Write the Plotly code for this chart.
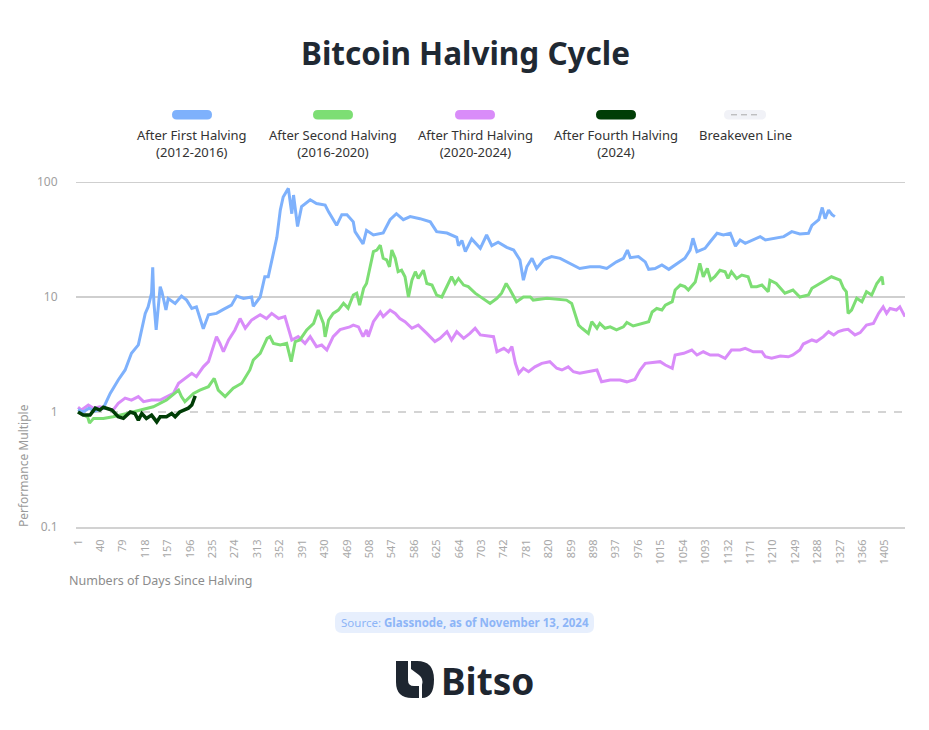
import plotly.graph_objects as go

# ---------------- data ----------------
first_days = [1, 10, 20, 30, 45, 57, 71, 83, 94, 106, 118, 123, 129, 131, 133, 137, 144, 147, 154, 158,
              170, 181, 190, 199, 207, 219, 228, 242, 254, 268, 277, 289, 303, 306, 318, 326, 332, 341,
              347, 353, 358, 367, 373, 376, 383, 390, 405, 416, 431, 437, 451, 460, 469, 480, 483, 497,
              503, 515, 532, 544, 555, 567, 579, 596, 614, 625, 643, 660, 663, 669, 675, 686, 701, 712,
              721, 732, 747, 759, 770, 776, 782, 791, 799, 811, 825, 840, 857, 874, 892, 909, 921, 938,
              950, 957, 962, 976, 988, 994, 1005, 1017, 1029, 1043, 1057, 1066, 1071, 1078, 1092, 1101,
              1113, 1124, 1136, 1145, 1153, 1162, 1176, 1188, 1197, 1211, 1229, 1243, 1257, 1272, 1278,
              1290, 1296, 1301, 1307, 1313, 1318]
first_vals = [1.05, 1.0, 1.08, 1.02, 1.08, 1.45, 1.9, 2.32, 3.24, 3.83, 7.2, 8.2, 10.8, 18.1, 9.0, 5.17,
              12.3, 11.1, 7.7, 9.7, 8.8, 10.2, 9.4, 7.95, 8.2, 5.3, 7.0, 7.2, 7.8, 8.5, 10.2, 9.7, 10.0,
              8.3, 10.0, 15.0, 15.0, 24.0, 33.0, 57.0, 74.0, 88.0, 53.0, 77.0, 41.0, 61.0, 70.0, 65.0,
              63.0, 55.0, 42.0, 52.0, 52.0, 45.0, 37.0, 29.0, 38.0, 34.6, 36.0, 47.0, 53.0, 47.0, 50.0,
              48.0, 45.0, 37.0, 36.0, 33.0, 28.0, 31.0, 24.8, 32.0, 26.5, 34.6, 28.0, 30.0, 27.0, 25.6,
              21.0, 14.0, 18.3, 21.7, 17.7, 21.0, 22.5, 21.7, 19.6, 17.7, 18.3, 18.3, 17.7, 20.2, 21.7,
              25.6, 22.0, 22.5, 20.2, 17.4, 17.7, 19.0, 17.4, 19.6, 21.7, 25.6, 32.4, 24.8, 26.5, 30.2,
              35.8, 34.6, 35.8, 27.7, 31.3, 29.3, 31.3, 33.5, 31.3, 32.3, 33.5, 37.0, 35.3, 35.8, 42.0,
              47.0, 60.0, 48.0, 57.0, 52.0, 50.0]

second_days = [1, 10, 18, 21, 28, 45, 62, 86, 109, 132, 155, 176, 181, 187, 202, 213, 228, 238, 245, 257,
               271, 286, 300, 306, 318, 330, 335, 341, 353, 364, 372, 379, 387, 399, 411, 419, 428, 431,
               437, 445, 454, 463, 466, 471, 480, 486, 491, 498, 503, 512, 515, 521, 527, 532, 538, 543,
               547, 553, 558, 564, 570, 576, 582, 588, 593, 602, 608, 617, 625, 634, 643, 651, 657, 663,
               672, 680, 692, 704, 718, 730, 738, 746, 753, 764, 776, 788, 793, 817, 851, 860, 866, 872,
               878, 889, 895, 904, 909, 918, 927, 938, 950, 956, 967, 982, 994, 1000, 1008, 1017, 1023,
               1035, 1040, 1049, 1057, 1063, 1075, 1083, 1089, 1096, 1102, 1109, 1118, 1127, 1132, 1138,
               1147, 1156, 1167, 1173, 1182, 1191, 1202, 1205, 1216, 1231, 1245, 1257, 1272, 1278, 1292,
               1301, 1312, 1327, 1333, 1338, 1341, 1347, 1356, 1365, 1373, 1382, 1391, 1400, 1402]
second_vals = [1.0, 0.95, 0.9, 0.8, 0.88, 0.88, 0.91, 0.97, 1.04, 1.11, 1.27, 1.55, 1.36, 1.23, 1.45,
               1.55, 1.66, 1.96, 1.55, 1.36, 1.61, 1.78, 2.32, 2.83, 3.24, 4.37, 4.52, 3.95, 3.82, 3.95,
               2.74, 4.1, 4.23, 5.17, 5.9, 7.7, 5.9, 4.5, 6.3, 7.2, 7.7, 8.8, 8.5, 8.0, 10.4, 10.8, 8.5,
               11.9, 13.1, 21.7, 24.8, 25.6, 28.2, 21.7, 21.0, 18.3, 25.6, 21.7, 16.6, 17.1, 15.0, 10.0,
               14.0, 16.6, 14.5, 17.1, 13.1, 12.7, 10.4, 10.0, 12.3, 15.0, 13.1, 14.5, 12.7, 12.3, 10.8,
               9.75, 8.8, 9.75, 10.8, 13.1, 11.5, 9.1, 10.0, 10.0, 9.4, 9.75, 9.4, 8.8, 7.2, 5.7, 5.35,
               4.83, 6.1, 5.35, 5.9, 5.35, 5.5, 5.17, 5.5, 6.0, 5.6, 5.9, 6.1, 7.4, 7.95, 7.7, 8.5, 9.1,
               11.5, 12.7, 12.3, 11.5, 13.5, 19.6, 15.0, 17.7, 14.0, 15.0, 17.1, 16.6, 14.5, 16.6, 14.5,
               15.5, 15.0, 12.3, 12.3, 12.7, 11.1, 14.0, 13.1, 10.8, 11.5, 10.0, 10.4, 11.9, 13.1, 14.0,
               15.0, 14.0, 11.9, 11.1, 7.2, 7.7, 9.75, 9.1, 11.1, 10.4, 13.1, 15.0, 12.7]

third_days = [1, 7, 19, 28, 39, 51, 62, 71, 83, 94, 106, 115, 129, 144, 155, 167, 176, 187, 199, 207, 219,
              228, 239, 242, 248, 254, 263, 274, 283, 292, 303, 318, 329, 338, 350, 361, 373, 384, 396,
              405, 416, 425, 434, 445, 457, 474, 480, 489, 497, 503, 506, 515, 527, 532, 544, 553, 561,
              570, 582, 593, 608, 622, 631, 643, 651, 660, 672, 683, 692, 701, 724, 730, 742, 750, 756,
              762, 768, 776, 785, 796, 808, 822, 834, 843, 854, 863, 874, 886, 904, 912, 927, 944, 956,
              970, 979, 988, 1002, 1014, 1023, 1035, 1040, 1055, 1069, 1078, 1089, 1101, 1115, 1127,
              1138, 1153, 1162, 1176, 1191, 1197, 1208, 1223, 1237, 1245, 1257, 1263, 1278, 1286, 1298,
              1307, 1316, 1324, 1333, 1341, 1353, 1362, 1373, 1385, 1394, 1402, 1408, 1414, 1425, 1431,
              1440]
third_vals = [1.1, 1.04, 1.15, 1.08, 1.11, 1.08, 1.04, 1.19, 1.32, 1.27, 1.36, 1.23, 1.27, 1.27, 1.36,
              1.45, 1.78, 1.96, 2.17, 2.03, 2.47, 2.74, 3.95, 4.52, 3.95, 3.34, 4.23, 5.17, 6.5, 5.35,
              6.3, 7.0, 6.5, 7.2, 6.5, 6.75, 4.23, 4.52, 3.95, 4.52, 3.7, 3.82, 3.46, 4.52, 5.2, 5.5,
              5.7, 5.5, 4.52, 5.17, 4.52, 6.1, 7.4, 6.75, 7.7, 7.2, 6.5, 6.1, 5.35, 5.7, 4.83, 4.1, 4.37,
              5.0, 4.23, 5.0, 4.37, 4.83, 5.35, 4.68, 4.52, 3.34, 3.58, 3.34, 3.7, 2.65, 2.17, 2.4, 2.24,
              2.47, 2.65, 2.74, 2.4, 2.32, 2.47, 2.24, 2.17, 2.24, 2.32, 1.83, 1.9, 1.9, 1.83, 1.92, 2.32,
              2.65, 2.68, 2.74, 2.56, 2.4, 3.13, 3.24, 3.46, 3.13, 3.34, 3.13, 3.13, 2.93, 3.46, 3.46,
              3.58, 3.34, 3.34, 3.02, 2.93, 3.07, 3.02, 3.13, 3.46, 3.9, 4.23, 4.1, 4.52, 5.0, 4.68, 5.0,
              5.17, 5.24, 4.68, 4.9, 5.7, 5.9, 7.2, 8.2, 7.2, 7.95, 7.7, 8.2, 6.75]

fourth_days = [1, 5, 10, 22, 31, 39, 45, 60, 71, 80, 92, 100, 106, 112, 120, 129, 138, 144, 155, 164, 170,
               178, 187, 193, 199, 202, 205]
fourth_vals = [1.0, 0.97, 0.94, 0.94, 1.08, 1.04, 1.1, 1.04, 0.91, 0.88, 1.0, 0.97, 0.85, 0.97, 0.88, 0.94,
               0.82, 0.91, 0.91, 0.97, 0.91, 1.0, 1.04, 1.08, 1.15, 1.27, 1.38]

breakeven_days = [1, 1440]
breakeven_vals = [1, 1]

x_tick_vals = list(range(1, 1406, 39))
y_tick_vals = [0.1, 1, 10, 100]
y_tick_text = ["0.1", "1", "10", "100"]

series_names = ["After First Halving", "After Second Halving", "After Third Halving",
                "After Fourth Halving", "Breakeven Line"]
series_sub = ["(2012-2016)", "(2016-2020)", "(2020-2024)", "(2024)", ""]
colors = ["#7EB1FC", "#7DDE74", "#D98CF9", "#003D06", "#A9A9A9"]

# ---------------- layout helpers ----------------
W, H = 929, 730
L, R, T, B = 76, 24, 182, 203
PW, PH = W - L - R, H - T - B
FONT = "Noto Sans"


def px(x):
    return (x - L) / PW


def py(y):
    return (H - B - y) / PH


def path_from(points_cmds):
    out = []
    for c in points_cmds:
        if isinstance(c, str):
            out.append(c)
        else:
            out.append(f"{px(c[0]):.5f},{py(c[1]):.5f}")
    return " ".join(out)


def rounded_rect(x0, y0, x1, y1, r):
    return path_from(["M", (x0 + r, y0), "L", (x1 - r, y0), "Q", (x1, y0), (x1, y0 + r),
                      "L", (x1, y1 - r), "Q", (x1, y1), (x1 - r, y1), "L", (x0 + r, y1),
                      "Q", (x0, y1), (x0, y1 - r), "L", (x0, y0 + r), "Q", (x0, y0), (x0 + r, y0), "Z"])


fig = go.Figure()

fig.add_trace(go.Scatter(x=breakeven_days, y=breakeven_vals, mode="lines", name=series_names[4],
                         line=dict(color=colors[4], width=1, dash="8px,8px")))
for d, v, nm, c, w in [(third_days, third_vals, series_names[2], colors[2], 3),
                       (second_days, second_vals, series_names[1], colors[1], 3),
                       (first_days, first_vals, series_names[0], colors[0], 3),
                       (fourth_days, fourth_vals, series_names[3], colors[3], 3.5)]:
    fig.add_trace(go.Scatter(x=d, y=v, mode="lines", name=nm, line=dict(color=c, width=w)))

shapes = []
annotations = []

# gridlines at 10 and 100
for gv in [10, 100]:
    shapes.append(dict(type="line", xref="paper", yref="y", x0=0, x1=1, y0=gv, y1=gv,
                       line=dict(color="#9F9F9F", width=1), layer="below"))

# custom legend
legend_cx = [192, 333, 475, 616, 745]
for i, cx in enumerate(legend_cx):
    if i < 4:
        shapes.append(dict(type="path", xref="paper", yref="paper",
                           path=rounded_rect(cx - 20, 110, cx + 20, 119.5, 4.75),
                           fillcolor=colors[i], line=dict(width=0)))
    else:
        shapes.append(dict(type="path", xref="paper", yref="paper",
                           path=rounded_rect(cx - 21, 110, cx + 21, 119.5, 4.75),
                           fillcolor="#F1F2F7", line=dict(width=0)))
        for k in range(3):
            sx = cx - 14 + k * 10
            shapes.append(dict(type="line", xref="paper", yref="paper",
                               x0=px(sx), x1=px(sx + 6), y0=py(114.8), y1=py(114.8),
                               line=dict(color="#A9A9A9", width=1)))
    txt = series_names[i] + ("<br>" + series_sub[i] if series_sub[i] else "")
    annotations.append(dict(text=txt, xref="paper", yref="paper", x=px(cx), y=py(124),
                            xanchor="center", yanchor="top", showarrow=False, align="center",
                            font=dict(family=FONT, size=13, color="#333333")))

# title
annotations.append(dict(text="<b>Bitcoin Halving Cycle</b>", xref="paper", yref="paper",
                        x=px(465), y=py(52), xanchor="center", yanchor="middle", showarrow=False,
                        font=dict(family=FONT, size=31.5, color="#1F2933")))

# axis titles
annotations.append(dict(text="Performance Multiple", xref="paper", yref="paper",
                        x=px(23), y=py(466), xanchor="center", yanchor="middle", showarrow=False,
                        textangle=-90, font=dict(family=FONT, size=12, color="#9A9A9A")))
annotations.append(dict(text="Numbers of Days Since Halving", xref="paper", yref="paper",
                        x=px(67), y=py(580), xanchor="left", yanchor="middle", showarrow=False,
                        font=dict(family=FONT, size=12.5, color="#8C8C8C")))

# source box
shapes.append(dict(type="path", xref="paper", yref="paper",
                   path=rounded_rect(335, 612, 594, 633, 7),
                   fillcolor="#E7EFFD", line=dict(width=0)))
annotations.append(dict(text="Source: <b>Glassnode, as of November 13, 2024</b>",
                        xref="paper", yref="paper", x=px(465), y=py(622.5), xanchor="center",
                        yanchor="middle", showarrow=False,
                        font=dict(family=FONT, size=11.5, color="#8DB5F7")))

# Bitso logo
logo_color = "#1E2630"
shapes.append(dict(type="path", xref="paper", yref="paper", fillcolor=logo_color, line=dict(width=0),
                   path=path_from(["M", (396, 661), "L", (408, 661), "L", (408, 680), "Q", (408, 686),
                                   (414, 686), "L", (419, 686), "L", (419, 698), "L", (412, 698),
                                   "Q", (396, 698), (396, 682), "Z"])))
shapes.append(dict(type="path", xref="paper", yref="paper", fillcolor=logo_color, line=dict(width=0),
                   path=path_from(["M", (411, 661), "L", (417, 661), "Q", (434, 661), (434, 679.5),
                                   "Q", (434, 698), (422, 698), "L", (422, 685), "Q", (424, 679),
                                   (419, 675), "L", (411, 669), "Z"])))
annotations.append(dict(text="<b>Bitso</b>", xref="paper", yref="paper", x=px(439), y=py(680),
                        xanchor="left", yanchor="middle", showarrow=False,
                        font=dict(family=FONT, size=37, color=logo_color)))

fig.update_layout(
    width=W, height=H,
    margin=dict(l=L, r=R, t=T, b=B, pad=0),
    paper_bgcolor="white", plot_bgcolor="white",
    showlegend=False,
    shapes=shapes, annotations=annotations,
    font=dict(family=FONT),
    xaxis=dict(range=[-2.5, 1440], tickvals=x_tick_vals, tickangle=-90, showgrid=False,
               zeroline=False, showline=True, linecolor="#D2D2D2", linewidth=2,
               ticks="outside", ticklen=6, tickcolor="rgba(0,0,0,0)",
               tickfont=dict(family=FONT, size=11, color="#A8A8A8")),
    yaxis=dict(type="log", range=[-1, 2], tickvals=y_tick_vals, ticktext=y_tick_text,
               showgrid=False, zeroline=False, showline=False,
               ticks="outside", ticklen=15, tickcolor="rgba(0,0,0,0)",
               tickfont=dict(family=FONT, size=12, color="#A0A0A0")),
)

fig.write_html("out.html", config={"displayModeBar": False},
               post_script="document.body.style.margin='0';")
